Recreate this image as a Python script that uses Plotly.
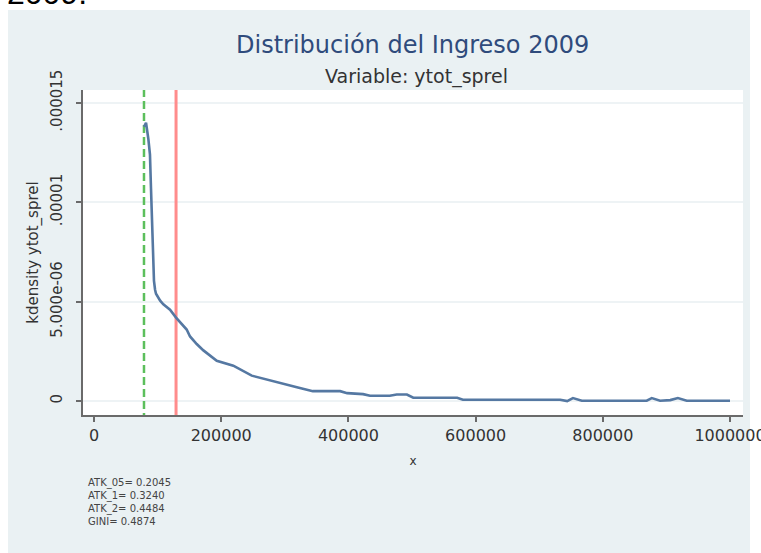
import plotly.graph_objects as go

# ---- data ----
income = [78600, 81800, 85400, 88000, 89600, 92300, 94300, 96000, 97500, 104000,
          109000, 119500, 129000, 145700, 151000, 161500, 172000, 193000, 219000,
          248000, 277000, 300000, 319000, 344000, 387000, 398000, 423000, 434000,
          465000, 476000, 492000, 502000, 571000, 580000, 638000, 733000, 744000,
          753000, 767000, 869000, 877000, 890000, 906000, 918000, 932000, 1000000]
density_e6 = [13.8, 14.0, 13.2, 12.4, 10.7, 8.2, 6.05, 5.6, 5.4, 5.05,
              4.87, 4.6, 4.2, 3.6, 3.25, 2.87, 2.55, 2.03, 1.78,
              1.28, 1.03, 0.85, 0.7, 0.5, 0.5, 0.4, 0.35, 0.27,
              0.27, 0.33, 0.33, 0.17, 0.17, 0.07, 0.07, 0.07, 0.0,
              0.15, 0.02, 0.02, 0.15, 0.02, 0.05, 0.15, 0.02, 0.02]
density = [v * 1e-6 for v in density_e6]

poverty_line = 78600      # green dashed
mean_line = 129000        # red solid

x_ticks = [0, 200000, 400000, 600000, 800000, 1000000]
x_tick_labels = ["0", "200000", "400000", "600000", "800000", "1000000"]
y_ticks = [0, 5e-6, 1e-5, 1.5e-5]
y_tick_labels = ["0", "5.000e-06", ".00001", ".000015"]

stats_lines = ["ATK_05= 0.2045", "ATK_1= 0.3240", "ATK_2= 0.4484", "GINI= 0.4874"]

title_text = "Distribución del Ingreso 2009"
subtitle_text = "Variable: ytot_sprel"
caption_text = "2009."

# ---- figure ----
W, H = 761, 553
L, R, T, B = 83, 18, 90, 138
pw, ph = W - L - R, H - T - B

def px_x(px):
    return (px - L) / pw

def px_y(py):
    return (H - B - py) / ph

fig = go.Figure()

fig.add_trace(go.Scatter(
    x=[poverty_line, poverty_line], y=[-1e-6, 2e-5], mode="lines",
    line=dict(color="#5cbf5c", width=2.5, dash="8px,4px"), hoverinfo="skip",
    showlegend=False))
fig.add_trace(go.Scatter(
    x=[mean_line, mean_line], y=[-1e-6, 2e-5], mode="lines",
    line=dict(color="#ff8c8c", width=3), hoverinfo="skip", showlegend=False))
fig.add_trace(go.Scatter(
    x=income, y=density, mode="lines",
    line=dict(color="#5578a2", width=2.6), showlegend=False))

shapes = [
    dict(type="rect", xref="paper", yref="paper",
         x0=px_x(8), x1=px_x(750), y0=px_y(560), y1=px_y(10),
         fillcolor="#eaf1f3", line=dict(width=0), layer="below"),
    dict(type="rect", xref="paper", yref="paper",
         x0=0, x1=1, y0=0, y1=1,
         fillcolor="white", line=dict(width=0), layer="below"),
]

font_family = "DejaVu Sans"
annotations = [
    dict(text=caption_text, xref="paper", yref="paper", x=px_x(5), y=px_y(13),
         xanchor="left", yanchor="bottom", showarrow=False,
         font=dict(family="Liberation Sans", size=32, color="#000000")),
    dict(text=title_text, xref="paper", yref="paper", x=px_x(412), y=px_y(45),
         xanchor="center", yanchor="middle", showarrow=False,
         font=dict(family=font_family, size=24, color="#2f4b7c")),
    dict(text=subtitle_text, xref="paper", yref="paper", x=px_x(416), y=px_y(76),
         xanchor="center", yanchor="middle", showarrow=False,
         font=dict(family=font_family, size=19, color="#333333")),
    dict(text="<br>".join(stats_lines), xref="paper", yref="paper",
         x=px_x(86), y=px_y(475), xanchor="left", yanchor="top", align="left",
         showarrow=False, font=dict(family=font_family, size=10, color="#444444")),
]

fig.update_layout(
    width=W, height=H,
    margin=dict(l=L, r=R, t=T, b=B, pad=0, autoexpand=False),
    paper_bgcolor="white", plot_bgcolor="white",
    shapes=shapes, annotations=annotations,
    font=dict(family=font_family, size=14, color="#333333"),
    xaxis=dict(
        range=[-17300, 1020400], tickvals=x_ticks, ticktext=x_tick_labels,
        showgrid=False, zeroline=False, showline=True, linecolor="#6a6a6a",
        linewidth=2, ticks="outside", ticklen=5, tickwidth=2, tickcolor="#6a6a6a",
        tickfont=dict(size=16, color="#333333"), ticklabeloverflow="allow",
        automargin=False,
        title=dict(text="x", font=dict(size=12, color="#333333"), standoff=12),
    ),
    yaxis=dict(
        range=[-0.7e-6, 1.565e-5], tickvals=y_ticks, ticktext=y_tick_labels,
        tickangle=-90, showgrid=True, gridcolor="#eef3f5", gridwidth=1.5,
        zeroline=False, showline=True, linecolor="#6a6a6a", linewidth=2,
        ticks="outside", ticklen=5, tickwidth=2, tickcolor="#6a6a6a",
        tickfont=dict(size=15, color="#333333"), ticklabelstandoff=8,
        automargin=False,
        title=dict(text="kdensity ytot_sprel", font=dict(size=15, color="#333333"),
                   standoff=6),
    ),
)

fig.write_html("out.html", config={"displayModeBar": False},
               post_script="document.body.style.margin='0px';")
